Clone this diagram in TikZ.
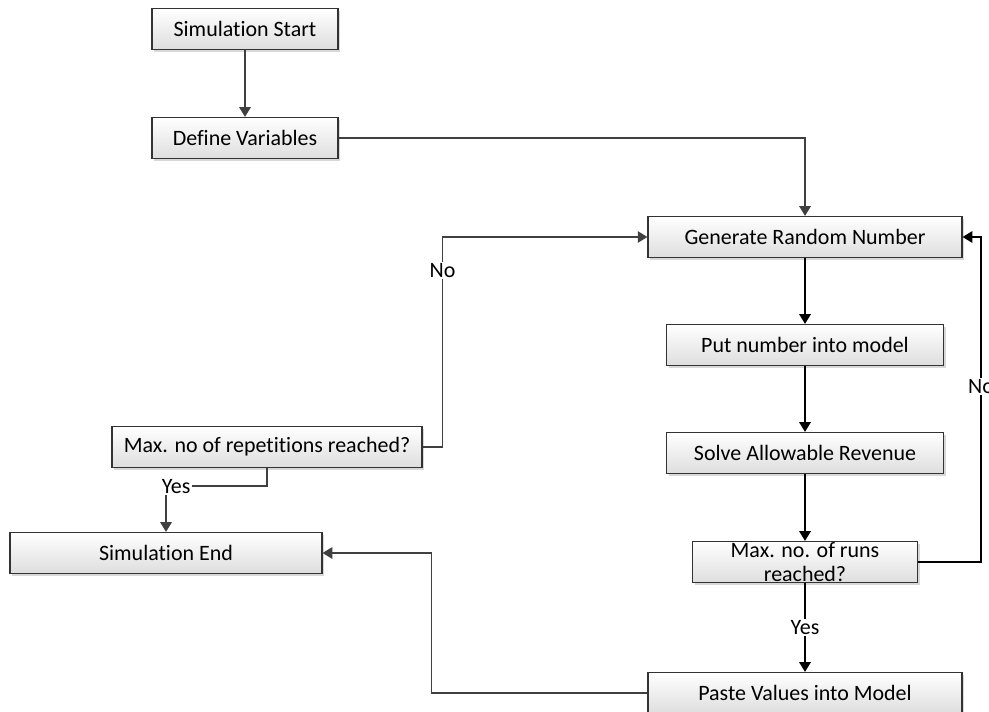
\documentclass[tikz,border=0pt]{standalone}
\usepackage{fontspec}
\setmainfont[Ligatures=NoCommon]{Carlito}
\usetikzlibrary{arrows.meta,positioning,shadows}

\begin{document}
\begin{tikzpicture}[
  x=0.02cm, y=-0.02cm,
  font=\fontsize{12.5}{13.2}\selectfont,
  box/.style ={draw=black!80,line width=0.7pt,top color=white,bottom color=black!13,
               minimum height=0.82cm,inner sep=1pt,align=center,
               drop shadow={shadow xshift=1.3pt,shadow yshift=-1.3pt,fill=black!30,opacity=0.5}},
  flow/.style={draw=black!75,line width=0.85pt,-{Triangle[length=5.5pt,width=6.5pt]}},
  main/.style={flow,draw=black},
  lbl/.style ={fill=white,inner sep=1pt}]

\useasboundingbox (0,0) rectangle (989,712);

%---------------- setup ----------------
\node[box,minimum width=3.72cm] (start) at (245,29) {Simulation Start};
\node[box,minimum width=3.72cm] (vars)  at (245,138) {Define Variables};

%---------------- run loop ----------------
\node[box,minimum width=6.28cm] (gen)   at (805,237) {Generate Random Number};
\node[box,minimum width=5.54cm] (put)   at (805,345) {Put number into model};
\node[box,minimum width=5.54cm] (solve) at (805,453) {Solve Allowable Revenue};
\node[box,minimum width=4.5cm,inner sep=0pt] (runs) at (805,562) {Max. no. of runs\\reached?};
\node[box,minimum width=6.28cm] (paste) at (805,693) {Paste Values into Model};

%---------------- repetitions ----------------
\node[box,minimum width=6.2cm]  (rep) at (267,447) {Max. no of repetitions reached?};
\node[box,minimum width=6.24cm] (end) at (166,553) {Simulation End};

\draw[flow] (start) -- (vars);
\draw[flow] (vars.east) -| (gen.north);
\draw[main] (gen) -- (put);
\draw[main] (put) -- (solve);
\draw[main] (solve) -- (runs);
\draw[main] (runs) -- node[lbl]{Yes} (paste);
\draw[main] (runs.east) -- ++(63,0) |- node[lbl,pos=0.27]{No} (gen.east);
\draw[flow] (paste.west) -- ++(-216,0) |- (end.east);
\draw[flow] (rep.east) -- ++(20,0) |- node[lbl,pos=0.42]{No} (gen.west);
\draw[flow] (rep.south) -- ++(0,18) -| node[lbl,pos=0.45]{Yes} (end.north);

\end{tikzpicture}
\end{document}
